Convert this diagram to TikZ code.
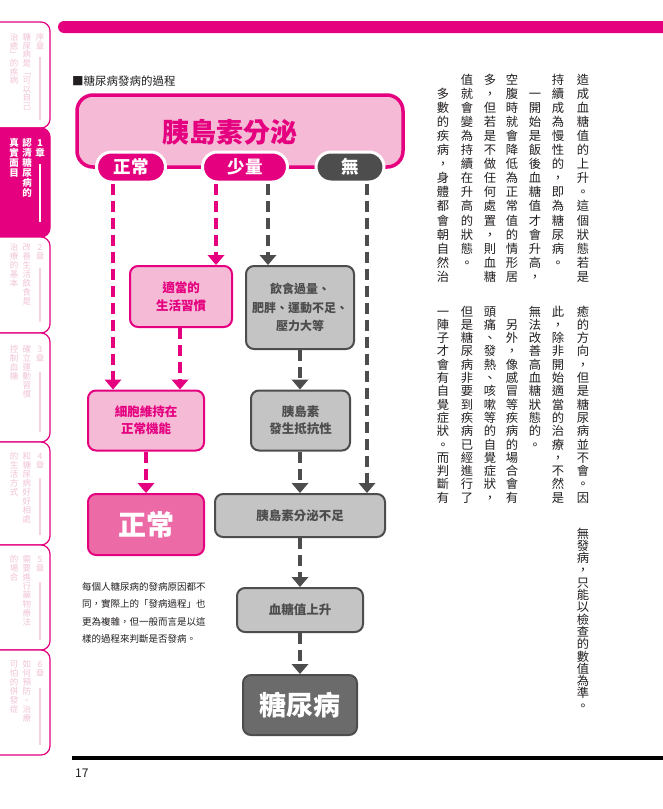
\documentclass[tikz,border=0pt]{standalone}
\usepackage{fontspec}
\setmainfont{Noto Sans CJK TC}
\usetikzlibrary{arrows.meta}
\definecolor{mag}{HTML}{E4007F}
\definecolor{lpink}{HTML}{F5BAD6}
\definecolor{mpink}{HTML}{EC6BA7}
\definecolor{dgray}{HTML}{4D4D4D}
\definecolor{lgray}{HTML}{C4C4C4}
\definecolor{mgray}{HTML}{6B6B6B}
\definecolor{pale}{HTML}{F1C3D7}
\definecolor{paleline}{HTML}{F5D2E2}
\definecolor{ink}{HTML}{231F20}
\makeatletter
\newcommand\VertText[2]{\vbox{\baselineskip=#1\relax\lineskip=0pt\relax\lineskiplimit=-100pt\relax\VT@loop#2\relax}}
\def\VT@loop#1{\ifx\relax#1\else\hbox{\vrule height .88em depth .12em width 0pt\hbox to 1em{\hss#1\hss}}\expandafter\VT@loop\fi}
\makeatother
\tikzset{
  box/.style={draw, rounded corners=8pt, line width=2pt, align=center, inner sep=0pt,
    font=\bfseries\fontsize{12.5}{17.5}\selectfont},
  pinkbox/.style={box, draw=mag, fill=lpink, text=mag},
  graybox/.style={box, draw=dgray, fill=lgray, text=dgray},
  pill/.style={rounded corners=15pt, draw=white, line width=3pt, minimum height=30pt,
    inner sep=0pt, text=white, font=\bfseries\fontsize{17.5}{17.5}\selectfont},
  tipP/.tip={Triangle[width=17pt 0 0,length=10pt 0 0,line width=0pt]},
  parr/.style={draw=mag, line width=4pt, dash pattern=on 11pt off 6pt, -tipP},
  garr/.style={draw=dgray, line width=4pt, dash pattern=on 11pt off 6pt, -tipP},
  body/.style={anchor=north, inner sep=0pt, text=ink, font=\fontsize{12.3}{13}\selectfont},
  tab/.style={draw=mag, line width=1.2pt, rounded corners=9pt},
  side/.style={anchor=north, inner sep=0pt, text=pale, font=\fontsize{8.5}{9}\selectfont},
  sideon/.style={anchor=north, inner sep=0pt, text=white, font=\bfseries\fontsize{9.5}{10}\selectfont},
  sline/.style={paleline, line width=2.5pt},
}
\begin{document}
\begin{tikzpicture}[x=1pt,y=-1pt]
\useasboundingbox (0,0) rectangle (663,809);
\fill[white] (0,0) rectangle (663,809);

% top bar
\fill[mag] (663,21) [rounded corners=6pt]-- (58,21) -- (58,33) [sharp corners]-- (663,33) -- cycle;

% sidebar tabs
\draw[tab, fill=white] (-12,22) rectangle (50,128);
\draw[tab, fill=mag] (-12,128) rectangle (50,237);
\draw[tab, fill=white] (-12,237) rectangle (50,333);
\draw[tab, fill=white] (-12,333) rectangle (50,442);
\draw[tab, fill=white] (-12,442) rectangle (50,545);
\draw[tab, fill=white] (-12,545) rectangle (50,650);
\draw[tab, fill=white] (-12,650) rectangle (50,755);

\node[side] (s0a) at (40,33) {\VertText{9pt}{序章}};
\node[side] (s0b) at (27,33) {\VertText{8.6pt}{糖尿病是﹁可以自己}};
\node[side] (s0c) at (14,33) {\VertText{8.6pt}{治癒﹂的疾病}};
\draw[sline] (40,57) -- (40,120);

\node[sideon] (s1a) at (40,138) {\VertText{10pt}{1章}};
\node[sideon] (s1b) at (27,138) {\VertText{10pt}{認清糖尿病的}};
\node[sideon] (s1c) at (14,138) {\VertText{10pt}{真實面目}};
\draw[white, line width=2.5pt] (40,164) -- (40,222);

\node[side] (s2a) at (40,243) {\VertText{9pt}{2章}};
\node[side] (s2b) at (27,243) {\VertText{9pt}{改善生活飲食是}};
\node[side] (s2c) at (14,243) {\VertText{9pt}{治療的基本}};
\draw[sline] (40,268) -- (40,322);

\node[side] (s3a) at (40,345) {\VertText{9pt}{3章}};
\node[side] (s3b) at (27,345) {\VertText{9pt}{確立運動習慣}};
\node[side] (s3c) at (14,345) {\VertText{9pt}{控制血糖}};
\draw[sline] (40,372) -- (40,432);

\node[side] (s4a) at (40,452) {\VertText{9pt}{4章}};
\node[side] (s4b) at (27,452) {\VertText{9pt}{和糖尿病好好相處}};
\node[side] (s4c) at (14,452) {\VertText{9pt}{的生活方式}};
\draw[sline] (40,478) -- (40,535);

\node[side] (s5a) at (40,555) {\VertText{9pt}{5章}};
\node[side] (s5b) at (27,555) {\VertText{9pt}{需要進行藥物療法}};
\node[side] (s5c) at (14,555) {\VertText{9pt}{的場合}};
\draw[sline] (40,582) -- (40,640);

\node[side] (s6a) at (40,660) {\VertText{9pt}{6章}};
\node[side] (s6b) at (27,660) {\VertText{9pt}{如何預防、治療}};
\node[side] (s6c) at (14,660) {\VertText{9pt}{可怕的併發症}};
\draw[sline] (40,688) -- (40,745);

% title
\node[anchor=west, inner sep=0pt, text=ink, font=\fontsize{11.5}{12}\selectfont] (title) at (72,81) {■糖尿病發病的過程};

% big box
\draw[draw=mag, fill=lpink, line width=3.5pt, rounded corners=16pt] (77,95) rectangle (403,167);
\node[text=mag, font=\bfseries\fontsize{27}{27}\selectfont, inner sep=0pt] (ins) at (230,132) {胰島素分泌};

% pills
\node[pill, fill=mag, minimum width=69pt] (pN) at (131,167) {正常};
\node[pill, fill=mag, minimum width=85pt] (pS) at (245,167) {少量};
\node[pill, fill=dgray, minimum width=68pt] (pW) at (350,167) {無};

% boxes
\node[pinkbox, minimum width=102pt, minimum height=61pt] (habit) at (181,296.5) {適當的\\生活習慣};
\node[graybox, minimum width=108pt, minimum height=83pt, font=\bfseries\fontsize{12}{18.5}\selectfont] (diet) at (300,307.5) {飲食過量、\\肥胖、運動不足、\\壓力大等};
\node[pinkbox, minimum width=116pt, minimum height=60pt] (cell) at (146,420.5) {細胞維持在\\正常機能};
\node[graybox, minimum width=99pt, minimum height=60pt] (resist) at (300.5,420.5) {胰島素\\發生抵抗性};
\node[box, draw=mag, fill=mpink, text=white, minimum width=116pt, minimum height=61pt,
  font=\bfseries\fontsize{28}{28}\selectfont] (normal) at (146,524.5) {正常};
\node[graybox, minimum width=170pt, minimum height=43pt] (lack) at (300,515.5) {胰島素分泌不足};
\node[graybox, minimum width=126pt, minimum height=44pt] (sugar) at (300,610) {血糖值上升};
\node[box, draw=dgray, fill=mgray, text=white, minimum width=114pt, minimum height=60pt,
  font=\bfseries\fontsize{27}{27}\selectfont] (dm) at (300,705) {糖尿病};

% connector x positions
\coordinate (xN) at (113,0);
\coordinate (xS1) at (216,0);
\coordinate (xS2) at (268,0);
\coordinate (xW) at (367,0);
\coordinate (xH) at (180,0);

\draw[parr] (pN.south -| xN) -- (cell.north -| xN);
\draw[parr] (pS.south -| xS1) -- (habit.north -| xS1);
\draw[garr] (pS.south -| xS2) -- (diet.north -| xS2);
\draw[garr] (pW.south -| xW) -- (lack.north -| xW);
\draw[parr] (habit.south -| xH) -- (cell.north -| xH);
\draw[parr] (cell) -- (normal);
\draw[garr] (diet.south) -- (resist.north -| diet.south);
\draw[garr] (resist.south -| lack.north) -- (lack.north);
\draw[garr] (lack) -- (sugar);
\draw[garr] (sugar) -- (dm);

% caption
\node[anchor=north west, inner sep=0pt, align=left, text=ink, font=\fontsize{9.5}{17.5}\selectfont] (cap) at (82,582)
 {每個人糖尿病的發病原因都不\\同，實際上的「發病過程」也\\更為複雜，但一般而言是以這\\樣的過程來判斷是否發病。};

% vertical body text, tier 1
\node[body] (a1) at (583,73) {\VertText{14.1pt}{造成血糖值的上升。這個狀態若是}};
\node[body] (a2) at (558,73) {\VertText{14.1pt}{持續成為慢性的，即為糖尿病。}};
\node[body] (a3) at (535,73) {\VertText{14.1pt}{　一開始是飯後血糖值才會升高，}};
\node[body] (a4) at (512,73) {\VertText{14.1pt}{空腹時就會降低為正常值的情形居}};
\node[body] (a5) at (490,73) {\VertText{14.1pt}{多，但若是不做任何處置，則血糖}};
\node[body] (a6) at (467,73) {\VertText{14.1pt}{值就會變為持續在升高的狀態。}};
\node[body] (a7) at (443,73) {\VertText{14.1pt}{　多數的疾病，身體都會朝自然治}};
% tier 2
\node[body] (b1) at (583,305) {\VertText{13.3pt}{癒的方向，但是糖尿病並不會。因}};
\node[body] (b2) at (558,305) {\VertText{13.3pt}{此，除非開始適當的治療，不然是}};
\node[body] (b3) at (535,305) {\VertText{13.3pt}{無法改善高血糖狀態的。}};
\node[body] (b4) at (512,305) {\VertText{13.3pt}{　另外，像感冒等疾病的場合會有}};
\node[body] (b5) at (490,305) {\VertText{13.3pt}{頭痛、發熱、咳嗽等的自覺症狀，}};
\node[body] (b6) at (467,305) {\VertText{13.3pt}{但是糖尿病非要到疾病已經進行了}};
\node[body] (b7) at (443,305) {\VertText{13.3pt}{一陣子才會有自覺症狀。而判斷有}};
% tier 3
\node[body] (c1) at (583,527) {\VertText{12.3pt}{無發病，只能以檢查的數值為準。}};

% footer
\draw[black, line width=3.5pt] (72,758) -- (663,758);
\node[anchor=west, inner sep=0pt, text=ink, font=\fontsize{12}{12}\selectfont] (pg) at (75,773) {17};
\end{tikzpicture}
\end{document}
